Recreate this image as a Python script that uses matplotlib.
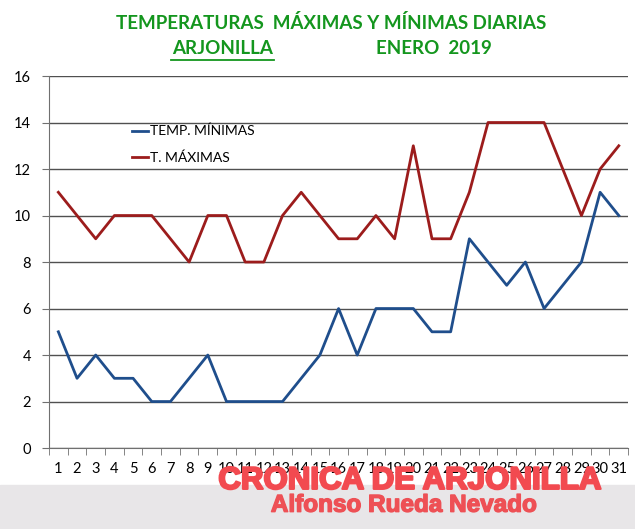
import matplotlib
matplotlib.use("Agg")
import matplotlib.pyplot as plt
import matplotlib.patheffects as pe
from matplotlib.ticker import FixedLocator

# Datos: enero 2019, Arjonilla
dias = list(range(1, 32))
t_minimas = [5, 3, 4, 3, 3, 2, 2, 3, 4, 2, 2, 2, 2, 3, 4, 6, 4, 6, 6, 6,
             5, 5, 9, 8, 7, 8, 6, 7, 8, 11, 10]
t_maximas = [11, 10, 9, 10, 10, 10, 9, 8, 10, 10, 8, 8, 10, 11, 10, 9, 9, 10, 9, 13,
             9, 9, 11, 14, 14, 14, 14, 12, 10, 12, 13]
y_ticks = [0, 2, 4, 6, 8, 10, 12, 14, 16]

fuente = "Lato"
verde = "#14961e"

fig = plt.figure(figsize=(6.35, 5.29), dpi=100)
ax = fig.add_axes([0.0772, 0.153, 0.912, 0.7033])

ax.plot(dias, t_minimas, color="#1f4e8c", lw=2, label="TEMP. MÍNIMAS")
ax.plot(dias, t_maximas, color="#9c1c1c", lw=2, label="T. MÁXIMAS")

ax.set_xlim(0.5, 31.5)
ax.set_ylim(0, 16)
ax.set_yticks(y_ticks)
ax.yaxis.grid(True, color="#505050", lw=1)
ax.set_axisbelow(True)

# etiquetas en el centro, marcas entre categorías (estilo Excel)
ax.set_xticks(dias)
ax.set_xticklabels([str(d) for d in dias], fontsize=10.5, family=fuente)
ax.tick_params(axis="x", which="major", length=0, pad=10)
ax.xaxis.set_minor_locator(FixedLocator([d + 0.5 for d in range(0, 32)]))
ax.tick_params(axis="x", which="minor", length=5, color="#707070")
ax.tick_params(axis="y", length=5, color="#707070", labelsize=10.5, pad=8)
for lab in ax.get_yticklabels():
    lab.set_family(fuente)

for s in ["top", "right"]:
    ax.spines[s].set_visible(False)
for s in ["left", "bottom"]:
    ax.spines[s].set_color("#707070")

leg = ax.legend(loc="upper left", bbox_to_anchor=(0.121, 0.902), frameon=False,
                handlelength=1.2, handletextpad=0.1, labelspacing=1.0,
                prop={"family": fuente, "size": 10})

# títulos
fig.text(0.521, 0.956, "TEMPERATURAS  MÁXIMAS Y MÍNIMAS DIARIAS", ha="center", va="center",
         fontsize=13.5, fontweight="bold", color=verde, family=fuente)
fig.text(0.35, 0.909, "ARJONILLA", ha="center", va="center", fontsize=13.5,
         fontweight="bold", color=verde, family=fuente)
fig.add_artist(plt.Line2D([0.270, 0.432], [0.886, 0.886], color=verde, lw=1.3))
fig.text(0.683, 0.909, "ENERO  2019", ha="center", va="center", fontsize=13.5,
         fontweight="bold", color=verde, family=fuente)

# franja gris inferior con la firma
fig.patches.append(plt.Rectangle((0, 0), 1, 0.083, transform=fig.transFigure,
                                 color="#e8e6e8", zorder=-1))
fig.text(0.646, 0.091, "CRONICA DE ARJONILLA", ha="center", va="center",
         fontsize=22.5, fontweight="bold", color="#f24a50", family="Liberation Sans",
         path_effects=[pe.withStroke(linewidth=1.6, foreground="#f24a50")])
fig.text(0.636, 0.045, "Alfonso Rueda Nevado", ha="center", va="center",
         fontsize=17.5, fontweight="bold", color="#ee5055", family="Liberation Sans",
         path_effects=[pe.withStroke(linewidth=1.0, foreground="#ee5055")])

plt.savefig("out.png", dpi=100)
